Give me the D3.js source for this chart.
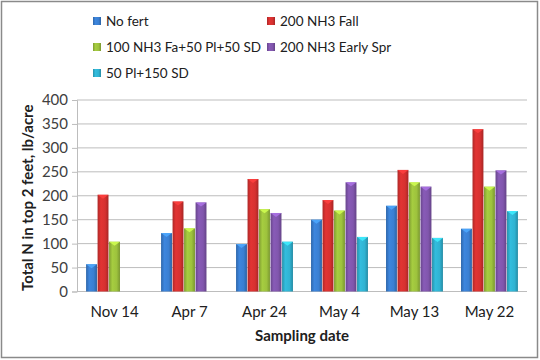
<!DOCTYPE html>
<html><head><meta charset="utf-8">
<script src="https://cdn.jsdelivr.net/npm/d3@7"></script>
<style>body{margin:0;background:#fff}svg{display:block}</style>
</head><body>
<svg id="c" width="540" height="360"></svg>
<script>
const categories = ["Nov 14","Apr 7","Apr 24","May 4","May 13","May 22"];
const seriesNames = ["No fert","200 NH3 Fall","100 NH3 Fa+50 Pl+50 SD","200 NH3 Early Spr","50 Pl+150 SD"];
const noFert      = [57, 122, 99, 150, 179, 131];
const nh3Fall     = [202, 188, 235, 191, 254, 339];
const split       = [104, 132, 172, 169, 228, 219];
const earlySpr    = [null, 186, 164, 228, 219, 253];
const plSd        = [null, null, 104, 114, 112, 168];
const yTicks = [0,50,100,150,200,250,300,350,400];
const colors = ["#3a7fd2","#d63130","#9dc23d","#8156ad","#30b3d2"];
const allSeries = [noFert, nh3Fall, split, earlySpr, plSd];

const svg = d3.select("#c");
const font = "Lato, 'Open Sans', sans-serif";
const L = 77, R = 527, T = 100, B = 291.5;

svg.append("rect").attr("x",1.5).attr("y",1.5).attr("width",536).attr("height",356)
  .attr("fill","#fff").attr("stroke","#8a8a8a").attr("stroke-width",1.5);

const defs = svg.append("defs");
colors.forEach((c,i)=>{
  const g = defs.append("linearGradient").attr("id","g"+i).attr("x1","0").attr("x2","1").attr("y1","0").attr("y2","0");
  const col = d3.color(c);
  g.append("stop").attr("offset","0").attr("stop-color",col.darker(0.6));
  g.append("stop").attr("offset","0.3").attr("stop-color",col.brighter(0.15));
  g.append("stop").attr("offset","0.7").attr("stop-color",col);
  g.append("stop").attr("offset","1").attr("stop-color",col.darker(0.7));
});

const x0 = d3.scaleBand().domain(categories).range([L,R]).paddingInner(0.233).paddingOuter(0.117);
const x1 = d3.scaleBand().domain(d3.range(5)).range([0,x0.bandwidth()]);
const y = d3.scaleLinear().domain([0,400]).range([B,T]);

// gridlines
svg.append("g").selectAll("line").data(yTicks).join("line")
  .attr("x1",L).attr("x2",R).attr("y1",d=>y(d)).attr("y2",d=>y(d))
  .attr("stroke","#bdbdbd").attr("stroke-width",1);

// y axis
const ya = svg.append("g").attr("transform",`translate(${L},0)`)
  .call(d3.axisLeft(y).tickValues(yTicks).tickSize(5).tickPadding(4));
ya.select(".domain").attr("stroke","#bdbdbd");
ya.selectAll(".tick line").attr("stroke","#bdbdbd");
ya.selectAll("text").attr("font-family",font).attr("font-size",15).attr("fill","#404040");

// bars
const groups = svg.append("g").selectAll("g").data(categories).join("g")
  .attr("transform",d=>`translate(${x0(d)},0)`);
allSeries.forEach((s,si)=>{
  groups.each(function(cat,ci){
    const v = s[ci];
    if (v == null) return;
    const g = d3.select(this);
    const bx = x1(si), bw = x1.bandwidth();
    g.append("rect").attr("x",bx+0.3).attr("y",y(v)).attr("width",bw-0.6).attr("height",y(0)-y(v))
      .attr("fill",`url(#g${si})`);
    g.append("path")
      .attr("d",`M${bx+0.3},${y(v)} L${bx+bw-0.3},${y(v)} L${bx+bw/2},${y(v)+4} Z`)
      .attr("fill",d3.color(colors[si]).brighter(0.8)).attr("opacity",0.85);
  });
});

// x labels
svg.append("g").selectAll("text").data(categories).join("text")
  .attr("x",d=>x0(d)+x0.bandwidth()/2).attr("y",317)
  .attr("text-anchor","middle").attr("font-family",font).attr("font-size",15).attr("fill","#202020")
  .text(d=>d);

// axis titles
svg.append("text").attr("x",(L+R)/2).attr("y",341).attr("text-anchor","middle")
  .attr("font-family",font).attr("font-weight","bold").attr("font-size",15).attr("fill","#202020")
  .text("Sampling date");
svg.append("text").attr("transform",`translate(33,${(T+B)/2+2}) rotate(-90)`).attr("text-anchor","middle")
  .attr("font-family",font).attr("font-weight","bold").attr("font-size",15).attr("fill","#202020")
  .text("Total N in top 2 feet, lb/acre");

// legend
const legPos = [[93,21],[267,21],[93,47],[267,47],[93,73]];
const leg = svg.append("g").selectAll("g").data(seriesNames).join("g")
  .attr("transform",(d,i)=>`translate(${legPos[i][0]},${legPos[i][1]})`);
leg.append("rect").attr("x",0).attr("y",-4).attr("width",8).attr("height",8)
  .attr("fill",(d,i)=>`url(#g${i})`);
leg.append("text").attr("x",13).attr("y",5).attr("font-family",font).attr("font-size",13.5).attr("fill","#202020")
  .text(d=>d);
</script>
</body></html>
